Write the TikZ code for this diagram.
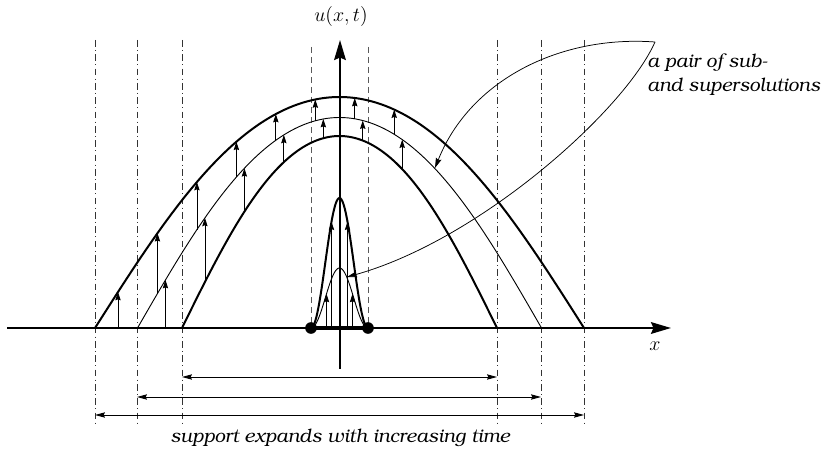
\documentclass[tikz,border=0pt]{standalone}
\usepackage[T1]{fontenc}
\usepackage{bookman}
\usetikzlibrary{arrows.meta}
\begin{document}
\begin{tikzpicture}[x=0.6pt,y=-0.6pt,
  declare function={
    bump(\x,\w,\h)=(abs(\x-339.5)<\w)*\h*cos((\x-339.5)/\w*90)*(1+0.06*sin((\x-339.5)/\w*90)^2);
    spike(\x,\h)=(abs(\x-339.5)<28.5)*\h*cos((\x-339.5)/28.5*90)^2;},
  axisline/.style={line width=1.3pt,-{Stealth[length=12pt,width=7pt,inset=1.5pt]}},
  thickcurve/.style={line width=1.2pt},
  thincurve/.style={line width=0.55pt},
  smallarrow/.style={line width=0.5pt,-{Stealth[length=5pt,width=3.2pt,inset=0.6pt]}},
  dimarrow/.style={line width=0.5pt,{Stealth[length=6pt,width=3.2pt,inset=0.8pt]}-{Stealth[length=6pt,width=3.2pt,inset=0.8pt]}},
  annot/.style={line width=0.45pt,-{Stealth[length=6pt,width=3.5pt,inset=0.8pt]}},
  dashdotline/.style={line width=0.5pt,black!80,dash pattern=on 4pt off 2pt on 0.6pt off 2pt},
  dashedline/.style={line width=0.5pt,black!65,dash pattern=on 3.5pt off 2.5pt},
  txt/.style={font=\itshape\fontsize{11.3}{14.4}\selectfont,inner sep=0pt},
  mathlab/.style={font=\fontsize{12.8}{15}\selectfont}
]
\useasboundingbox (0,0) rectangle (822,450);

% vertical guide lines
\foreach \xx [count=\i] in {95,137,182,497,541,584}{
  \coordinate (vt\i) at (\xx,40);
  \coordinate (vb\i) at (\xx,425);
  \draw[dashdotline] (vt\i) -- (vb\i);
}
\coordinate (dt1) at (311,47); \coordinate (db1) at (311,328);
\coordinate (dt2) at (368,47); \coordinate (db2) at (368,328);
\draw[dashedline] (dt1) -- (db1);
\draw[dashedline] (dt2) -- (db2);

% axes
\coordinate (xs) at (7,328); \coordinate (xe) at (671,328);
\coordinate (ys) at (340,369); \coordinate (ye) at (340,40);
\draw[axisline] (xs) -- (xe);
\draw[axisline] (ys) -- (ye);
\node[mathlab] (ulab) at (341,17) {$u(x,t)$};
\node[mathlab] (xlab) at (655,346) {$x$};

% big profiles
\draw[thickcurve] plot[domain=95:584,samples=160,smooth] (\x,{328-bump(\x,244.5,231)});
\draw[thincurve] plot[domain=137.5:541.5,samples=160,smooth] (\x,{328-bump(\x,202,210.5)});
\draw[thickcurve] plot[domain=182:497,samples=160,smooth] (\x,{328-bump(\x,157.5,192)});

% small profiles
\draw[thickcurve] plot[domain=311:368,samples=80,smooth] (\x,{328-spike(\x,130)});
\draw[thincurve] plot[domain=311:368,samples=80,smooth] (\x,{328-spike(\x,60)});

% arrows between big profiles
\foreach \k in {0,...,7}{
  \pgfmathsetmacro\xo{118+39.46*\k}
  \pgfmathsetmacro\ya{328-bump(\xo,202,210.5)}
  \pgfmathsetmacro\yb{328-bump(\xo,244.5,231)}
  \coordinate (ma\k) at (\xo,\ya);
  \coordinate (mb\k) at (\xo,\yb);
  \draw[smallarrow] (ma\k) -- (mb\k);
}
\foreach \k in {1,...,7}{
  \pgfmathsetmacro\xin{126+39.46*\k}
  \pgfmathsetmacro\yc{328-bump(\xin,157.5,192)}
  \pgfmathsetmacro\yd{328-bump(\xin,202,210.5)}
  \coordinate (ia\k) at (\xin,\yc);
  \coordinate (ib\k) at (\xin,\yd);
  \draw[smallarrow] (ia\k) -- (ib\k);
}

% arrows under small profiles
\foreach \xx/\hh [count=\i] in {326.5/60,352.5/60,331.5/130,347.5/130}{
  \pgfmathsetmacro\yy{328-spike(\xx,\hh)}
  \coordinate (sa\i) at (\xx,328);
  \coordinate (sb\i) at (\xx,\yy);
  \draw[smallarrow] (sa\i) -- (sb\i);
}

% initial support
\coordinate (p1) at (311,328); \coordinate (p2) at (368,328);
\draw[line width=2.4pt] (p1) -- (p2);
\fill (p1) circle (3.5pt);
\fill (p2) circle (3.5pt);

% dimension arrows
\coordinate (h1a) at (182,377); \coordinate (h1b) at (497,377);
\coordinate (h2a) at (137,397); \coordinate (h2b) at (541,397);
\coordinate (h3a) at (95,415);  \coordinate (h3b) at (584,415);
\draw[dimarrow] (h1a) -- (h1b);
\draw[dimarrow] (h2a) -- (h2b);
\draw[dimarrow] (h3a) -- (h3b);
\node[txt,anchor=base] (cap) at (340,442) {support expands with increasing time};

% annotation
\node[txt,anchor=north west,align=left] (ann) at (647,53) {a pair of sub-\\and supersolutions};
\coordinate (leaf) at (655,42);
\coordinate (tA) at (435,168);
\coordinate (tB) at (347,277);
\draw[annot] (leaf) .. controls (560,35) and (470,80) .. (tA);
\draw[annot] (leaf) .. controls (625,110) and (480,240) .. (tB);
\end{tikzpicture}
\end{document}
